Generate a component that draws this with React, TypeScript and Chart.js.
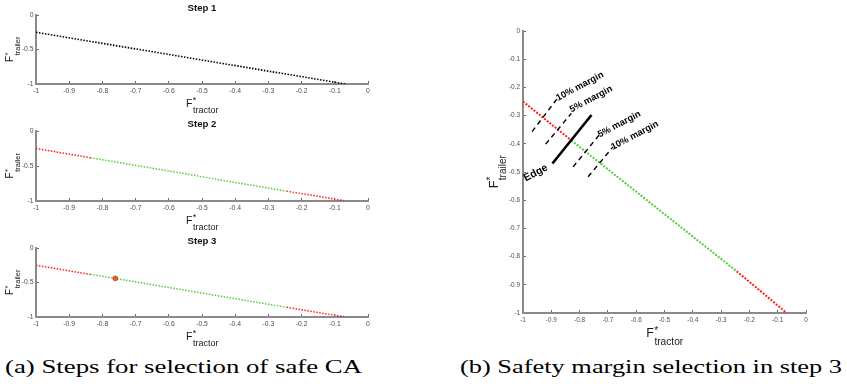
import React, { useEffect, useLayoutEffect, useRef } from "react";
import { Chart, registerables } from "chart.js";
Chart.register(...registerables);

type Pt = [number, number];

// ---------------- data ----------------
const X_TICKS = [-1, -0.9, -0.8, -0.7, -0.6, -0.5, -0.4, -0.3, -0.2, -0.1, 0];
const X_TICK_LABELS = ["-1", "-0.9", "-0.8", "-0.7", "-0.6", "-0.5", "-0.4", "-0.3", "-0.2", "-0.1", "0"];
const Y_TICKS_STEP = [-1, -0.5, 0];
const Y_TICK_LABELS_STEP = ["-1", "-0.5", "0"];
const Y_TICKS_MARGIN = [-1, -0.9, -0.8, -0.7, -0.6, -0.5, -0.4, -0.3, -0.2, -0.1, 0];
const Y_TICK_LABELS_MARGIN = ["-1", "-0.9", "-0.8", "-0.7", "-0.6", "-0.5", "-0.4", "-0.3", "-0.2", "-0.1", "0"];

const STEP_TITLES = ["Step 1", "Step 2", "Step 3"];
const CAPTIONS = ["(a) Steps for selection of safe CA", "(b) Safety margin selection in step 3"];

// step 1: whole candidate line (black)
const STEP1_LINE: Pt[] = [[-1, -0.25], [-0.068, -1]];
// steps 2/3: unsafe (red) / safe (green) parts
const STEP_RED_LOW: Pt[] = [[-1, -0.25], [-0.836, -0.382]];
const STEP_GREEN: Pt[] = [[-0.836, -0.382], [-0.245, -0.859]];
const STEP_RED_HIGH: Pt[] = [[-0.245, -0.859], [-0.068, -1]];
const STEP3_SELECTED: Pt[] = [[-0.761, -0.44]];

// panel (b)
const B_RED_LOW: Pt[] = [[-1, -0.25], [-0.829, -0.388]];
const B_GREEN: Pt[] = [[-0.829, -0.388], [-0.245, -0.852]];
const B_RED_HIGH: Pt[] = [[-0.245, -0.852], [-0.068, -1]];
const EDGE_LINE: Pt[] = [[-0.896, -0.47], [-0.758, -0.298]];
const MARGIN10_LEFT: Pt[] = [[-0.968, -0.357], [-0.88, -0.241]];
const MARGIN5_LEFT: Pt[] = [[-0.92, -0.401], [-0.829, -0.292]];
const MARGIN5_RIGHT: Pt[] = [[-0.823, -0.482], [-0.731, -0.369]];
const MARGIN10_RIGHT: Pt[] = [[-0.77, -0.517], [-0.682, -0.411]];
const NOTE_TEXTS = ["10% margin", "5% margin", "5% margin", "10% margin", "Edge"];
const NOTE_AT: Pt[] = [[-0.876, -0.248], [-0.829, -0.289], [-0.729, -0.378], [-0.682, -0.422], [-0.99, -0.534]];

// ---------------- styles ----------------
const SANS = '"Liberation Sans", Arial, Helvetica, sans-serif';
const RED = "#ff1f1f";
const GREEN = "#55cc3c";
const BLACK = "#000000";

const seg = (pts: Pt[], color: string, width: number, dash: number[]) => ({
  data: pts.map(([x, y]) => ({ x, y })),
  showLine: true,
  borderColor: color,
  backgroundColor: color,
  borderWidth: width,
  borderDash: dash,
  borderCapStyle: "butt",
  pointRadius: 0,
  pointHoverRadius: 0,
  fill: false,
  tension: 0,
});

function axis(kind: "x" | "y", ticks: number[], labels: string[], fontSize: number, pad: number, size: number) {
  return {
    type: "linear",
    position: kind === "x" ? "bottom" : "left",
    min: -1,
    max: 0,
    afterBuildTicks: (s: any) => {
      s.ticks = ticks.map((v) => ({ value: v }));
    },
    afterFit: (s: any) => {
      if (kind === "x") s.height = size;
      else s.width = size;
    },
    ticks: {
      autoSkip: false,
      maxRotation: 0,
      minRotation: 0,
      padding: pad,
      color: "#4d4d4d",
      font: { family: SANS, size: fontSize },
      callback: (_v: any, i: number) => labels[i],
    },
    grid: { drawOnChartArea: false, drawTicks: true, tickLength: -3, tickWidth: 1, tickColor: "#6a6a6a" },
    border: { display: true, color: "#8a8a8a", width: 2 },
  };
}

function drawFStar(ctx: CanvasRenderingContext2D, cx: number, by: number, sub: string, main: number, subSize: number, subOff: number) {
  ctx.font = `${main}px ${SANS}`;
  const wF = ctx.measureText("F").width;
  ctx.font = `${subSize}px ${SANS}`;
  const wS = ctx.measureText(sub).width;
  const x0 = cx - (wF + wS) / 2;
  ctx.fillStyle = "#1a1a1a";
  ctx.textAlign = "left";
  ctx.textBaseline = "alphabetic";
  ctx.font = `${main}px ${SANS}`;
  ctx.fillText("F", x0, by);
  ctx.font = `${subSize}px ${SANS}`;
  ctx.fillText("*", x0 + wF + 0.3, by - main * 0.3);
  ctx.fillText(sub, x0 + wF + 0.5, by + subOff);
}

const axisTitles = {
  id: "subTitles",
  afterDraw(chart: any, _args: any, o: any) {
    const { ctx, chartArea: a } = chart;
    ctx.save();
    drawFStar(ctx, (a.left + a.right) / 2, a.bottom + o.xDy, "tractor", o.main, o.sub, o.subOff);
    ctx.translate(a.left + o.yDx, (a.top + a.bottom) / 2);
    ctx.rotate(-Math.PI / 2);
    drawFStar(ctx, 0, 0, "trailer", o.yMain, o.ySub, o.ySubOff);
    ctx.restore();
  },
};

const notes = {
  id: "notes",
  afterDatasetsDraw(chart: any) {
    const { ctx, scales } = chart;
    ctx.save();
    NOTE_TEXTS.forEach((t, i) => {
      const px = scales.x.getPixelForValue(NOTE_AT[i][0]);
      const py = scales.y.getPixelForValue(NOTE_AT[i][1]);
      ctx.save();
      ctx.translate(px, py);
      ctx.rotate((-28 * Math.PI) / 180);
      ctx.font = `bold ${t === "Edge" ? 10.5 : 9.3}px ${SANS}`;
      ctx.fillStyle = BLACK;
      ctx.textAlign = "left";
      ctx.textBaseline = "alphabetic";
      ctx.fillText(t, 0, 0);
      ctx.restore();
    });
    ctx.restore();
  },
};

function stepConfig(step: number, xAxisH: number) {
  const dot = [1.5, 1.5];
  const datasets: any[] = [];
  if (step === 0) {
    datasets.push(seg(STEP1_LINE, BLACK, 1.6, dot));
  } else {
    if (step === 2) {
      datasets.push({
        data: STEP3_SELECTED.map(([x, y]) => ({ x, y })),
        showLine: false,
        pointRadius: 2.4,
        pointBorderWidth: 1,
        pointBackgroundColor: "#e8632a",
        pointBorderColor: "#c24a18",
      });
    }
    datasets.push(seg(STEP_RED_LOW, RED, 1.5, dot));
    datasets.push(seg(STEP_GREEN, GREEN, 1.5, dot));
    datasets.push(seg(STEP_RED_HIGH, RED, 1.5, dot));
  }
  return {
    type: "scatter",
    data: { datasets },
    options: {
      responsive: false,
      animation: false,
      events: [],
      layout: { padding: { left: 0, right: 12, top: 0, bottom: 0 } },
      scales: {
        x: axis("x", X_TICKS, X_TICK_LABELS, 6.8, 6, xAxisH),
        y: axis("y", Y_TICKS_STEP, Y_TICK_LABELS_STEP, 6.8, 5.5, 36),
      },
      plugins: {
        legend: { display: false },
        tooltip: { enabled: false },
        title: {
          display: true,
          fullSize: false,
          text: STEP_TITLES[step],
          color: "#111",
          font: { family: SANS, size: 9.6, weight: "bold" },
          padding: { top: 2.5, bottom: 1 },
        },
        subTitles: { xDy: 22.6, main: 10.5, sub: 9, subOff: 6, yDx: -23.5, yMain: 10, ySub: 7.5, ySubOff: 7 },
      },
    },
    plugins: [axisTitles],
  };
}

function marginConfig() {
  const dot = [2, 1.4];
  const dash = [5, 4];
  return {
    type: "scatter",
    data: {
      datasets: [
        seg(EDGE_LINE, BLACK, 2.6, []),
        seg(MARGIN10_LEFT, BLACK, 1.4, dash),
        seg(MARGIN5_LEFT, BLACK, 1.4, dash),
        seg(MARGIN5_RIGHT, BLACK, 1.4, dash),
        seg(MARGIN10_RIGHT, BLACK, 1.4, dash),
        seg(B_RED_LOW, RED, 2, dot),
        seg(B_GREEN, GREEN, 2, dot),
        seg(B_RED_HIGH, RED, 2, dot),
      ],
    },
    options: {
      responsive: false,
      animation: false,
      events: [],
      layout: { padding: { left: 0, right: 41, top: 31, bottom: 0 } },
      scales: {
        x: axis("x", X_TICKS, X_TICK_LABELS, 6.4, 6, 39),
        y: axis("y", Y_TICKS_MARGIN, Y_TICK_LABELS_MARGIN, 6.4, 6, 53),
      },
      plugins: {
        legend: { display: false },
        tooltip: { enabled: false },
        title: { display: false },
        subTitles: { xDy: 24.3, main: 12.5, sub: 10.2, subOff: 8, yDx: -25.3, yMain: 12.5, ySub: 10, ySubOff: 8 },
      },
    },
    plugins: [axisTitles, notes],
  };
}

function ChartCanvas({ left, top, width, height, make }: { left: number; top: number; width: number; height: number; make: () => any }) {
  const ref = useRef<HTMLCanvasElement>(null);
  useEffect(() => {
    const chart = new Chart(ref.current as HTMLCanvasElement, make());
    return () => chart.destroy();
  }, []);
  return (
    <canvas
      ref={ref}
      width={width}
      height={height}
      style={{ position: "absolute", left, top, width, height, display: "block" }}
    />
  );
}

function Caption({ text, left, right, top }: { text: string; left: number; right: number; top: number }) {
  const ref = useRef<HTMLSpanElement>(null);
  useLayoutEffect(() => {
    const el = ref.current as HTMLSpanElement;
    el.style.transform = "none";
    const w = el.getBoundingClientRect().width;
    if (w > 0) el.style.transform = `scaleX(${(right - left) / w})`;
  }, []);
  return (
    <span
      ref={ref}
      style={{
        position: "absolute",
        left,
        top,
        fontFamily: '"Liberation Serif", "Times New Roman", serif',
        fontSize: 19.5,
        lineHeight: "19.5px",
        whiteSpace: "nowrap",
        display: "inline-block",
        transformOrigin: "0 0",
        color: "#000",
      }}
    >
      {text}
    </span>
  );
}

export default function App() {
  return (
    <div
      style={{
        position: "absolute",
        left: 0,
        top: 0,
        width: 847,
        height: 391,
        overflow: "hidden",
        background: "#fff",
      }}
    >
      <ChartCanvas left={0} top={0} width={380} height={116} make={() => stepConfig(0, 32)} />
      <ChartCanvas left={0} top={116} width={380} height={116} make={() => stepConfig(1, 31)} />
      <ChartCanvas left={0} top={233} width={380} height={120} make={() => stepConfig(2, 36)} />
      <ChartCanvas left={470} top={0} width={377} height={352} make={marginConfig} />
      <Caption text={CAPTIONS[0]} left={5} right={362} top={357} />
      <Caption text={CAPTIONS[1]} left={460} right={842} top={357} />
    </div>
  );
}
